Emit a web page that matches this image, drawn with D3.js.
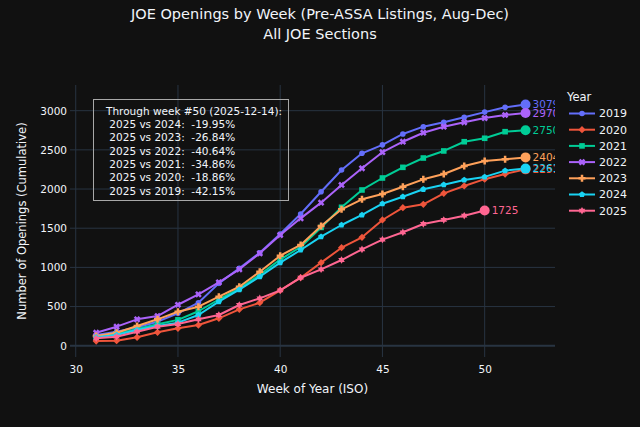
<!DOCTYPE html>
<html>
<head>
<meta charset="utf-8">
<script src="https://cdn.jsdelivr.net/npm/d3@7"></script>
<style>
  body { margin: 0; background: #111111; }
  text { font-family: "DejaVu Sans", Verdana, sans-serif; fill: #f2f5fa; }
</style>
</head>
<body>
<div id="chart"></div>
<script>
/**
 * DATA
 * */
const weeks = [31, 32, 33, 34, 35, 36, 37, 38, 39, 40, 41, 42, 43, 44, 45, 46, 47, 48, 49, 50, 51, 52];
const years = ["2019", "2020", "2021", "2022", "2023", "2024", "2025"];

const v2019 = [137, 179, 235, 307, 414, 549, 796, 988, 1187, 1425, 1681, 1966, 2243, 2456, 2564, 2703, 2796, 2852, 2916, 2982, 3043, 3079];
const v2020 = [60, 64, 107, 171, 222, 264, 350, 464, 549, 707, 868, 1060, 1251, 1384, 1605, 1762, 1805, 1945, 2039, 2126, 2192, 2251];
const v2021 = [112, 150, 215, 275, 330, 440, 590, 730, 905, 1100, 1260, 1510, 1767, 1988, 2141, 2277, 2396, 2486, 2604, 2648, 2732, 2750];
const v2022 = [166, 243, 337, 379, 523, 656, 809, 975, 1179, 1413, 1626, 1826, 2052, 2265, 2470, 2604, 2719, 2796, 2852, 2906, 2945, 2970];
const v2023 = [124, 166, 251, 337, 434, 498, 626, 753, 945, 1149, 1286, 1528, 1741, 1869, 1937, 2030, 2124, 2192, 2294, 2358, 2379, 2404];
const v2024 = [107, 137, 200, 251, 294, 392, 562, 716, 881, 1060, 1222, 1392, 1541, 1669, 1813, 1902, 1997, 2056, 2116, 2155, 2235, 2261];
const v2025 = [94, 115, 179, 243, 277, 337, 392, 520, 605, 707, 868, 975, 1094, 1230, 1355, 1448, 1554, 1605, 1660, 1725];

const seriesValues = [v2019, v2020, v2021, v2022, v2023, v2024, v2025];

const xTicks = [30, 35, 40, 45, 50];
const yTicks = [0, 500, 1000, 1500, 2000, 2500, 3000];

const noteLines = [
  "Through week #50 (2025-12-14):",
  " 2025 vs 2024:  -19.95%",
  " 2025 vs 2023:  -26.84%",
  " 2025 vs 2022:  -40.64%",
  " 2025 vs 2021:  -34.86%",
  " 2025 vs 2020:  -18.86%",
  " 2025 vs 2019:  -42.15%",
];

const colors = ["#636efa", "#ef553b", "#00cc96", "#ab63fa", "#ffa15a", "#19d3f3", "#ff6692"];
const symbols = ["circle", "diamond", "square", "x", "cross", "pentagon", "hexagram"];

/**
 * CONSTANTS
 * */
const width = 640,
  height = 427,
  margin = { top: 85, bottom: 70, left: 70, right: 85 };

const gridColor = "#283442";

// marker shapes, r ~ half size in px
function shapePath(name, r) {
  const pts = [];
  if (name === "circle") {
    return d3.symbol(d3.symbolCircle, Math.PI * r * r)();
  } else if (name === "diamond") {
    const d = r * 1.3;
    return `M0,${-d}L${d},0L0,${d}L${-d},0Z`;
  } else if (name === "square") {
    return `M${-r},${-r}H${r}V${r}H${-r}Z`;
  } else if (name === "x" || name === "cross") {
    const a = r * 1.25, w = r * 0.45;
    return `M${-w},${-a}H${w}V${-w}H${a}V${w}H${w}V${a}H${-w}V${w}H${-a}V${-w}H${-w}Z`;
  } else if (name === "pentagon") {
    const R = r * 1.15;
    for (let i = 0; i < 5; i++) {
      const t = -Math.PI / 2 + i * 2 * Math.PI / 5;
      pts.push([R * Math.cos(t), R * Math.sin(t)]);
    }
  } else if (name === "hexagram") {
    const R = r * 1.35;
    for (let i = 0; i < 12; i++) {
      const t = -Math.PI / 2 + i * Math.PI / 6;
      const rr = i % 2 === 0 ? R : R * 0.577;
      pts.push([rr * Math.cos(t), rr * Math.sin(t)]);
    }
  }
  return "M" + pts.map(p => p.join(",")).join("L") + "Z";
}

/**
 * DRAW
 * */
const svg = d3.select("#chart")
  .append("svg")
  .attr("width", width)
  .attr("height", height);

svg.append("rect")
  .attr("width", width)
  .attr("height", height)
  .attr("fill", "#111111");

const xScale = d3.scaleLinear()
  .domain([29.72, 53.44])
  .range([margin.left, width - margin.right]);

const yScale = d3.scaleLinear()
  .domain([-144, 3328])
  .range([height - margin.bottom, margin.top]);

// grid
svg.append("g")
  .selectAll("line")
  .data(xTicks)
  .join("line")
  .attr("x1", d => xScale(d))
  .attr("x2", d => xScale(d))
  .attr("y1", margin.top)
  .attr("y2", height - margin.bottom)
  .attr("stroke", gridColor)
  .attr("stroke-width", 1);

svg.append("g")
  .selectAll("line")
  .data(yTicks)
  .join("line")
  .attr("x1", margin.left)
  .attr("x2", width - margin.right)
  .attr("y1", d => yScale(d))
  .attr("y2", d => yScale(d))
  .attr("stroke", gridColor)
  .attr("stroke-width", d => d === 0 ? 2 : 1);

// axes (labels only, plotly style)
const xAxis = svg.append("g")
  .attr("transform", `translate(0,${height - margin.bottom})`)
  .call(d3.axisBottom(xScale).tickValues(xTicks).tickSize(0).tickPadding(9));
const yAxis = svg.append("g")
  .attr("transform", `translate(${margin.left},0)`)
  .call(d3.axisLeft(yScale).tickValues(yTicks).tickFormat(d3.format("d")).tickSize(0).tickPadding(3));
[xAxis, yAxis].forEach(a => {
  a.select(".domain").remove();
  a.selectAll("text")
    .attr("fill", "#f2f5fa")
    .style("font-family", '"DejaVu Sans", Verdana, sans-serif')
    .style("font-size", "10.5px");
});

svg.append("text")
  .attr("x", (margin.left + width - margin.right) / 2)
  .attr("y", 393)
  .attr("text-anchor", "middle")
  .style("font-size", "12px")
  .text("Week of Year (ISO)");

svg.append("text")
  .attr("transform", `translate(26,${(margin.top + height - margin.bottom) / 2}) rotate(-90)`)
  .attr("text-anchor", "middle")
  .style("font-size", "11.5px")
  .text("Number of Openings (Cumulative)");

// title
svg.append("text")
  .attr("x", 320)
  .attr("y", 19)
  .attr("text-anchor", "middle")
  .style("font-size", "14.5px")
  .text("JOE Openings by Week (Pre-ASSA Listings, Aug-Dec)");
svg.append("text")
  .attr("x", 320)
  .attr("y", 39)
  .attr("text-anchor", "middle")
  .style("font-size", "14.5px")
  .text("All JOE Sections");

// plot area clip
svg.append("clipPath")
  .attr("id", "plot-clip")
  .append("rect")
  .attr("x", margin.left)
  .attr("y", margin.top)
  .attr("width", width - margin.left - margin.right)
  .attr("height", height - margin.top - margin.bottom);

const plot = svg.append("g").attr("clip-path", "url(#plot-clip)");

const series = years.map((y, i) => ({
  year: y,
  color: colors[i],
  symbol: symbols[i],
  points: seriesValues[i].map((v, j) => ({ week: weeks[j], value: v })),
}));

const line = d3.line()
  .x(d => xScale(d.week))
  .y(d => yScale(d.value));

series.forEach(s => {
  const g = plot.append("g");
  g.append("path")
    .datum(s.points)
    .attr("d", line)
    .attr("fill", "none")
    .attr("stroke", s.color)
    .attr("stroke-width", 2)
    .attr("stroke-linejoin", "round");

  g.selectAll("path.mark")
    .data(s.points)
    .join("path")
    .attr("class", "mark")
    .attr("d", shapePath(s.symbol, 2.8))
    .attr("transform", d => `translate(${xScale(d.week)},${yScale(d.value)})${s.symbol === "x" ? " rotate(45)" : ""}`)
    .attr("fill", s.color);
});

// end markers + labels
series.forEach(s => {
  const last = s.points[s.points.length - 1];
  plot.append("circle")
    .attr("cx", xScale(last.week))
    .attr("cy", yScale(last.value))
    .attr("r", 5)
    .attr("fill", s.color);
  plot.append("text")
    .attr("x", xScale(last.week) + 7)
    .attr("y", yScale(last.value))
    .attr("dy", "0.36em")
    .style("fill", s.color)
    .style("font-size", "10.5px")
    .text(last.value);
});

// annotation box
const note = svg.append("g").attr("transform", "translate(93.5,99.5)");
note.append("rect")
  .attr("width", 195)
  .attr("height", 101)
  .attr("fill", "none")
  .attr("stroke", "#a8a8a8")
  .attr("stroke-width", 1);
note.selectAll("text")
  .data(noteLines)
  .join("text")
  .attr("x", 12.5)
  .attr("y", (d, i) => 11.5 + i * 13.3)
  .attr("dy", "0.36em")
  .style("white-space", "pre")
  .style("font-size", "10.5px")
  .text(d => d);

// legend
const legend = svg.append("g").attr("transform", "translate(567,0)");
legend.append("text")
  .attr("x", 0)
  .attr("y", 97)
  .attr("dy", "0.36em")
  .style("font-size", "11.5px")
  .text("Year");

const item = legend.selectAll("g.item")
  .data(series)
  .join("g")
  .attr("class", "item")
  .attr("transform", (d, i) => `translate(0,${113.5 + i * 16.2})`);
item.append("line")
  .attr("x1", 2)
  .attr("x2", 28)
  .attr("stroke", d => d.color)
  .attr("stroke-width", 2);
item.append("path")
  .attr("d", d => shapePath(d.symbol, 2.8))
  .attr("transform", d => `translate(15,0)${d.symbol === "x" ? " rotate(45)" : ""}`)
  .attr("fill", d => d.color);
item.append("text")
  .attr("x", 32)
  .attr("dy", "0.36em")
  .style("font-size", "11px")
  .text(d => d.year);
</script>
</body>
</html>
